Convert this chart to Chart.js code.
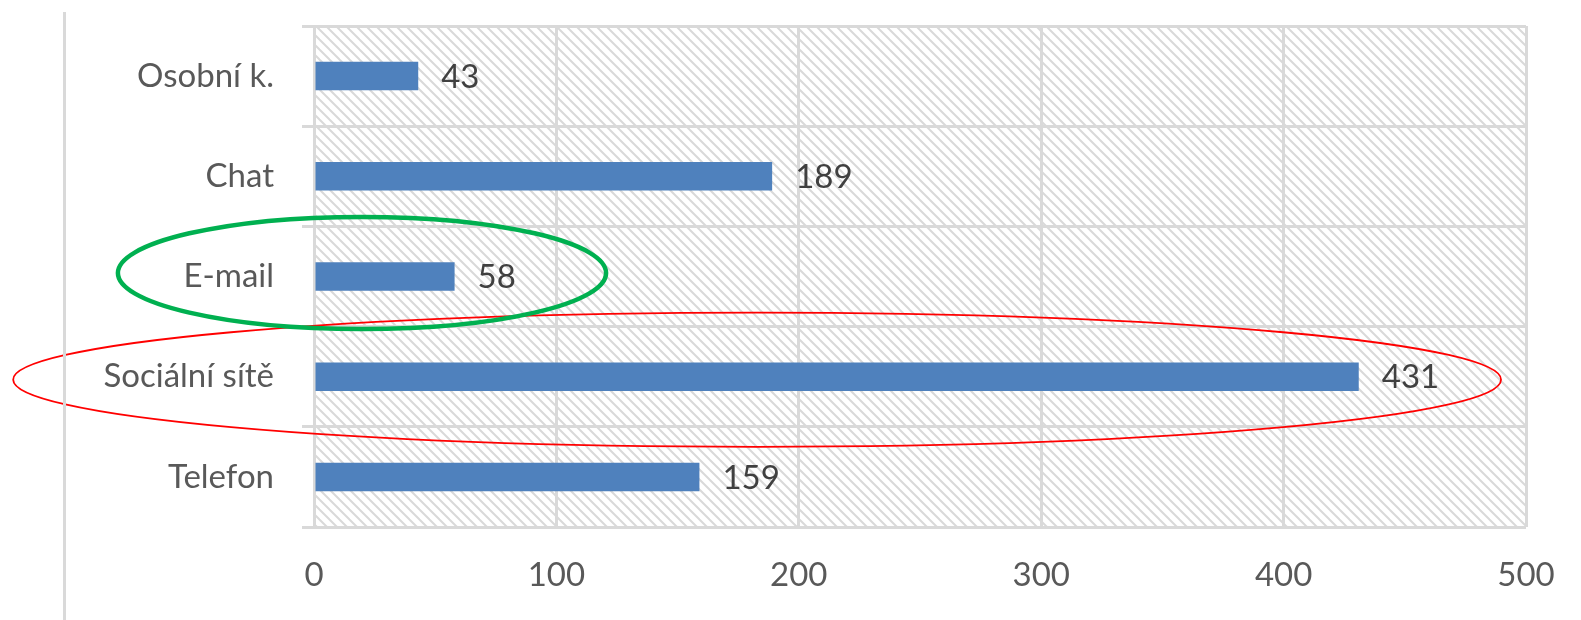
<!DOCTYPE html>
<html>
<head>
<meta charset="utf-8">
<script src="https://cdn.jsdelivr.net/npm/chart.js@4.4.0/dist/chart.umd.min.js"></script>
<style>
  html, body { margin: 0; padding: 0; background: #ffffff; overflow: hidden; }
  #wrap { position: relative; width: 1581px; height: 620px; }
  #leftRule { position: absolute; left: 63px; top: 12px; width: 3px; height: 608px; background: #d9d9d9; }
  canvas { position: absolute; left: 0; top: 0; }
</style>
</head>
<body>
<div id="wrap">
  <canvas id="c" width="1581" height="620"></canvas>
  <div id="leftRule"></div>
</div>
<script>
// ---- data ----
const categories = ['Osobní k.', 'Chat', 'E-mail', 'Sociální sítě', 'Telefon'];
const values = [43, 189, 58, 431, 159];
const xTickValues = [0, 100, 200, 300, 400, 500];
// highlighted categories (ellipse annotations): category index, centre value, half-width in value units, half-height in bands
const highlightCategory = [3, 2];
const highlightCenter = [182.8, 19.8];
const highlightHalfWidth = [306.9, 100.7];
const highlightHalfHeight = [0.67, 0.56];
const highlightShift = [0.03, -0.035];
const highlightColor = ['#ff0000', '#00b050'];
const highlightStroke = [1.8, 4.5];

const FONT = 'Lato, "Noto Sans", sans-serif';
const GRID = '#d9d9d9';

// hatch pattern
function makeHatch() {
  const s = 10;
  const t = document.createElement('canvas');
  t.width = s; t.height = s;
  const g = t.getContext('2d');
  g.fillStyle = '#ffffff';
  g.fillRect(0, 0, s, s);
  g.strokeStyle = '#d9d9d9';
  g.lineWidth = 2;
  for (const k of [-s, 0, s]) {
    g.beginPath();
    g.moveTo(k - 1, -1);
    g.lineTo(k + s + 1, s + 1);
    g.stroke();
  }
  return t;
}

const bgPlugin = {
  id: 'bg',
  beforeDraw(chart) {
    const { ctx, chartArea: a } = chart;
    ctx.save();
    ctx.fillStyle = '#ffffff';
    ctx.fillRect(0, 0, chart.width, chart.height);
    ctx.fillStyle = ctx.createPattern(makeHatch(), 'repeat');
    ctx.fillRect(a.left, a.top, a.right - a.left, a.bottom - a.top);
    ctx.restore();
  }
};

const valuePlugin = {
  id: 'values',
  afterDatasetsDraw(chart) {
    const { ctx } = chart;
    const meta = chart.getDatasetMeta(0);
    ctx.save();
    ctx.font = '33px ' + FONT;
    ctx.fillStyle = '#404040';
    ctx.textAlign = 'left';
    ctx.textBaseline = 'middle';
    meta.data.forEach((bar, i) => {
      ctx.fillText(String(values[i]), bar.x + 23, bar.y + 1);
    });
    ctx.restore();
  }
};

const ellipsePlugin = {
  id: 'ellipses',
  afterDraw(chart) {
    const { ctx } = chart;
    const xs = chart.scales.x, ys = chart.scales.y;
    const band = ys.getPixelForValue(1) - ys.getPixelForValue(0);
    const pxPerUnit = xs.getPixelForValue(100) - xs.getPixelForValue(0);
    ctx.save();
    for (let i = 0; i < highlightCategory.length; i++) {
      const cx = xs.getPixelForValue(highlightCenter[i]);
      const cy = ys.getPixelForValue(highlightCategory[i]) + highlightShift[i] * band;
      const rx = highlightHalfWidth[i] * pxPerUnit / 100;
      const ry = highlightHalfHeight[i] * band;
      ctx.beginPath();
      ctx.ellipse(cx, cy, rx, ry, 0, 0, Math.PI * 2);
      ctx.strokeStyle = highlightColor[i];
      ctx.lineWidth = highlightStroke[i];
      ctx.stroke();
    }
    ctx.restore();
  }
};

new Chart(document.getElementById('c'), {
  type: 'bar',
  data: {
    labels: categories,
    datasets: [{
      data: values,
      backgroundColor: '#4f81bd',
      borderWidth: 0,
      categoryPercentage: 1,
      barPercentage: 0.284
    }]
  },
  plugins: [bgPlugin, valuePlugin, ellipsePlugin],
  options: {
    indexAxis: 'y',
    responsive: false,
    devicePixelRatio: 1,
    animation: false,
    layout: { padding: { top: 26, right: 55, left: 0, bottom: 0 } },
    plugins: { legend: { display: false }, tooltip: { enabled: false }, title: { display: false } },
    scales: {
      x: {
        min: 0,
        max: 500,
        afterBuildTicks(scale) { scale.ticks = xTickValues.map(v => ({ value: v })); },
        ticks: { font: { family: FONT, size: 33 }, color: '#595959', padding: 29 },
        grid: { color: GRID, lineWidth: 3, drawTicks: false },
        border: { display: false },
        afterFit(scale) { scale.height = 93; scale.paddingLeft = 0; scale.paddingRight = 0; }
      },
      y: {
        ticks: { font: { family: FONT, size: 33 }, color: '#595959', padding: 28 },
        grid: { color: GRID, lineWidth: 3, tickLength: 12, offset: true },
        border: { display: false },
        afterFit(scale) { scale.width = 314; scale.paddingTop = 0; scale.paddingBottom = 0; }
      }
    }
  }
});
</script>
</body>
</html>
